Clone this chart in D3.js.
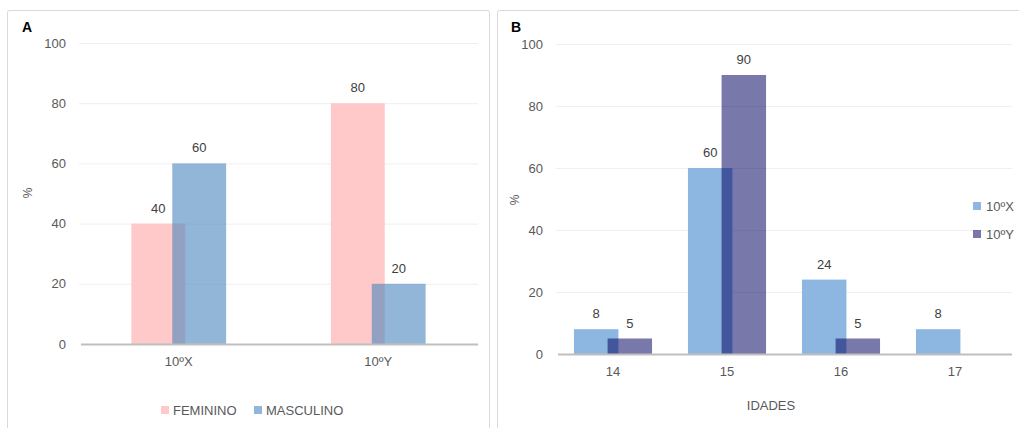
<!DOCTYPE html>
<html><head><meta charset="utf-8">
<script src="https://cdn.jsdelivr.net/npm/d3@7"></script>
<style>
body{margin:0;background:#fff;}
svg{display:block;font-family:"Liberation Sans",Arial,sans-serif;}
</style></head>
<body><svg id="c" width="1019" height="428"></svg>
<script>
// Panel A data
const classes = ["10ºX", "10ºY"];
const seriesA = ["FEMININO", "MASCULINO"];
const feminino = [40, 80];
const masculino = [60, 20];
// Panel B data
const ages = ["14", "15", "16", "17"];
const seriesB = ["10ºX", "10ºY"];
const turmaX = [8, 60, 24, 8];
const turmaY = [5, 90, 5, null];
const yTicks = [0, 20, 40, 60, 80, 100];

const svg = d3.select("#c");
const textCol = "#595959";

// frames
svg.append("rect").attr("x",7.5).attr("y",10.5).attr("width",482).attr("height",440).attr("rx",2)
  .attr("fill","#fff").attr("stroke","#D9D9D9");
svg.append("rect").attr("x",497.5).attr("y",10.5).attr("width",540).attr("height",440).attr("rx",2)
  .attr("fill","#fff").attr("stroke","#D9D9D9");

function panel(opt){
  const g = svg.append("g");
  const y = d3.scaleLinear().domain([0,100]).range([opt.y0, opt.y1]);
  const x = d3.scaleBand().domain(opt.cats).range([opt.x0, opt.x1]);
  // grid
  g.append("g").selectAll("line").data(yTicks.filter(t=>t>0)).join("line")
    .attr("x1",opt.x0).attr("x2",opt.x1).attr("y1",d=>y(d)+0.5).attr("y2",d=>y(d)+0.5)
    .attr("stroke","#EFEFEF").attr("stroke-width",1);
  // y axis
  const ya = g.append("g").attr("transform",`translate(${opt.x0-13},0)`)
    .call(d3.axisLeft(y).tickValues(yTicks).tickSize(0).tickPadding(0));
  ya.select(".domain").remove();
  ya.selectAll("text").attr("fill",textCol).style("font-size","13px").style("font-family","Liberation Sans, Arial, sans-serif");
  // bars
  const bw = x.bandwidth()*opt.barFrac, off = x.bandwidth()*opt.offFrac;
  const groupW = bw + off*(opt.series.length-1);
  opt.series.forEach((s,i)=>{
    const vals = opt.values[i];
    const data = opt.cats.map((c,j)=>({c, v: vals[j]})).filter(d=>d.v!=null);
    g.append("g").selectAll("rect").data(data).join("rect")
      .attr("x", d=>x(d.c)+x.bandwidth()/2-groupW/2+i*off)
      .attr("width", bw)
      .attr("y", d=>y(d.v)).attr("height", d=>y(0)-y(d.v))
      .attr("fill", opt.colors[i]).attr("fill-opacity", opt.opac[i]);
  });
  // labels
  opt.series.forEach((s,i)=>{
    const vals = opt.values[i];
    const data = opt.cats.map((c,j)=>({c, v: vals[j]})).filter(d=>d.v!=null);
    g.append("g").selectAll("text").data(data).join("text")
      .attr("x", d=>x(d.c)+x.bandwidth()/2-groupW/2+i*off+bw/2)
      .attr("y", d=>y(d.v)-11)
      .attr("text-anchor","middle").attr("fill","#404040").style("font-size","13px")
      .text(d=>d.v);
  });
  // x axis
  g.append("line").attr("x1",opt.x0+2).attr("x2",opt.x1).attr("y1",y(0)+0.5).attr("y2",y(0)+0.5)
    .attr("stroke","#BFBFBF").attr("stroke-width",2);
  const xa = g.append("g").attr("transform",`translate(0,${y(0)})`)
    .call(d3.axisBottom(x).tickSize(0).tickPadding(opt.xPad));
  xa.select(".domain").remove();
  xa.selectAll("text").attr("fill",textCol).style("font-size","13px").style("font-family","Liberation Sans, Arial, sans-serif");
  // y title
  g.append("text").attr("transform",`translate(${opt.pctX},${opt.pctY}) rotate(-90)`)
    .attr("text-anchor","middle").attr("fill",textCol).style("font-size","12px").text("%");
  // panel letter
  g.append("text").attr("x",opt.letterX).attr("y",32).attr("fill","#000").style("font-size","14px")
    .style("font-weight","bold").text(opt.letter);
  return g;
}

panel({cats:classes, series:seriesA, values:[feminino, masculino],
  x0:79, x1:478, y0:344, y1:43, barFrac:0.27, offFrac:0.205,
  colors:["#FFC9C9","#4683BD"], opac:[1,0.59], xPad:13, pctX:32, pctY:193,
  letter:"A", letterX:22});

panel({cats:ages, series:seriesB, values:[turmaX, turmaY],
  x0:556, x1:1012, y0:354, y1:44, barFrac:0.39, offFrac:0.295,
  colors:["#8DB7E1","#000060"], opac:[1,0.53], xPad:13, pctX:519, pctY:200,
  letter:"B", letterX:511});

// Legend A
const legA = svg.append("g");
const legAItems = [{s:seriesA[0], c:"#FFC9C9", o:1, x:161}, {s:seriesA[1], c:"#4683BD", o:0.59, x:254}];
legAItems.forEach(d=>{
  legA.append("rect").attr("x",d.x).attr("y",406).attr("width",8).attr("height",8).attr("fill",d.c).attr("fill-opacity",d.o);
  legA.append("text").attr("x",d.x+12).attr("y",414.5).attr("fill",textCol).style("font-size","13px").text(d.s);
});
// Legend B
const legB = svg.append("g");
const legBItems = [{s:seriesB[0], c:"#8DB7E1", o:1, y:206}, {s:seriesB[1], c:"#000060", o:0.53, y:234}];
legBItems.forEach(d=>{
  legB.append("rect").attr("x",973).attr("y",d.y-4).attr("width",8).attr("height",8).attr("fill",d.c).attr("fill-opacity",d.o);
  legB.append("text").attr("x",986).attr("y",d.y+4.5).attr("fill",textCol).style("font-size","13px").text(d.s);
});
// X title B
svg.append("text").attr("x",771).attr("y",410).attr("text-anchor","middle").attr("fill",textCol)
  .style("font-size","13px").text("IDADES");
</script></body></html>
